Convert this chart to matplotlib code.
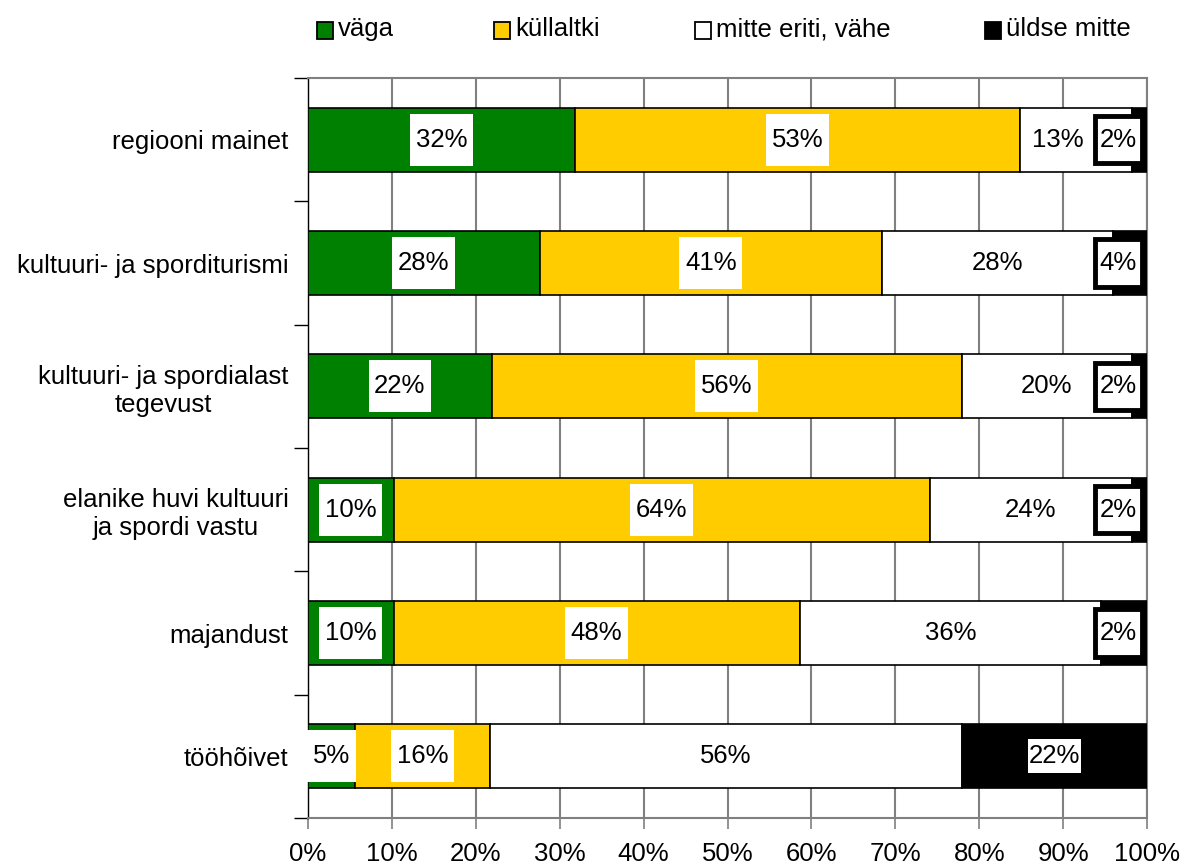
import matplotlib
matplotlib.use("Agg")
import matplotlib.pyplot as plt
from matplotlib.patches import Rectangle
from matplotlib.path import Path
import numpy as np

plt.rcParams['font.family'] = ['Liberation Sans', 'DejaVu Sans']

categories = ["regiooni mainet", "kultuuri- ja sporditurismi",
              "kultuuri- ja spordialast\ntegevust",
              "elanike huvi kultuuri\nja spordi vastu",
              "majandust", "tööhõivet"]
series_names = ["väga", "küllaltki", "mitte eriti, vähe", "üldse mitte"]
vaga = [31.8, 27.6, 21.9, 10.2, 10.2, 5.6]
kullaltki = [53.1, 40.8, 56.0, 63.9, 48.4, 16.1]
mitte_eriti = [13.3, 27.5, 20.3, 24.1, 35.9, 56.2]
uldse_mitte = [1.8, 4.1, 1.8, 1.8, 5.5, 22.1]
label_vaga = ["32%", "28%", "22%", "10%", "10%", "5%"]
label_kullaltki = ["53%", "41%", "56%", "64%", "48%", "16%"]
label_mitte = ["13%", "28%", "20%", "24%", "36%", "56%"]
label_uldse = ["2%", "4%", "2%", "2%", "2%", "22%"]
xticks = [0, 10, 20, 30, 40, 50, 60, 70, 80, 90, 100]

colors = ["#008000", "#FFCC00", "#FFFFFF", "#000000"]
series = [vaga, kullaltki, mitte_eriti, uldse_mitte]
labels = [label_vaga, label_kullaltki, label_mitte, label_uldse]
FS = 18.5


def make_box(px, py):
    def box(x0, y0, width, height, mutation_size):
        dx = px * mutation_size
        dy = py * mutation_size
        x0 -= dx
        y0 -= dy
        w = width + 2 * dx
        h = height + 2 * dy
        return Path([(x0, y0), (x0 + w, y0), (x0 + w, y0 + h), (x0, y0 + h),
                     (x0, y0)], closed=True)
    return box


fig = plt.figure(figsize=(11.82, 8.65), dpi=100)
ax = fig.add_axes([308/1182, 1-818/865, (1147-308)/1182, (818-78)/865])

n = len(categories)
y = np.arange(n)
left = np.zeros(n)
for k, (vals, col, labs) in enumerate(zip(series, colors, labels)):
    vals = np.array(vals)
    ax.barh(y, vals, left=left, height=0.52, color=col, edgecolor='black',
            linewidth=1.2, zorder=3)
    for i in range(n):
        cx = left[i] + vals[i] / 2
        if col == "#000000" and vals[i] < 10:
            cx = min(cx, 96.6)
            bbox = dict(boxstyle=make_box(0.2, 0.45), facecolor='white',
                        edgecolor='black', linewidth=3.5)
        elif col == "#000000":
            bbox = dict(boxstyle=make_box(0.04, 0.2), facecolor='white',
                        edgecolor='none')
        else:
            if k == 2:
                cx = min(cx, 89.4)
            bbox = dict(boxstyle=make_box(0.22, 0.55), facecolor='white',
                        edgecolor='none')
        ax.text(cx, y[i], labs[i], ha='center', va='center', fontsize=FS,
                color='black', bbox=bbox, zorder=5)
    left = left + vals

ax.set_xlim(0, 100)
ax.set_ylim(n - 0.5, -0.5)
ax.set_xticks(xticks)
ax.set_xticklabels([f"{v}%" for v in xticks], fontsize=FS)
ax.set_yticks(y)
ax.set_yticklabels(categories, fontsize=FS, multialignment='center')
ax.tick_params(axis='y', length=0, pad=14)
ax.set_yticks(np.arange(n + 1) - 0.5, minor=True)
ax.tick_params(axis='y', which='minor', length=10, width=1, color='black')
ax.tick_params(axis='x', length=8, width=1.2, color='#808080', pad=9)
ax.xaxis.grid(True, color='#808080', linewidth=1.5, zorder=0)
ax.set_axisbelow(True)
for s in ['top', 'right', 'bottom']:
    ax.spines[s].set_color('#808080')
    ax.spines[s].set_linewidth(1.5)
ax.spines['left'].set_color('black')
ax.spines['left'].set_linewidth(1)

# legend
leg_x = [317, 494, 695, 985]
for name, col, lx in zip(series_names, colors, leg_x):
    fig.patches.append(Rectangle((lx/1182, 1-39/865), 16/1182, 17/865,
                                 transform=fig.transFigure, facecolor=col,
                                 edgecolor='black', linewidth=1.3))
    fig.text((lx+21)/1182, 1-36/865, name, fontsize=FS, va='baseline', ha='left')

fig.savefig("out.png", dpi=100)
